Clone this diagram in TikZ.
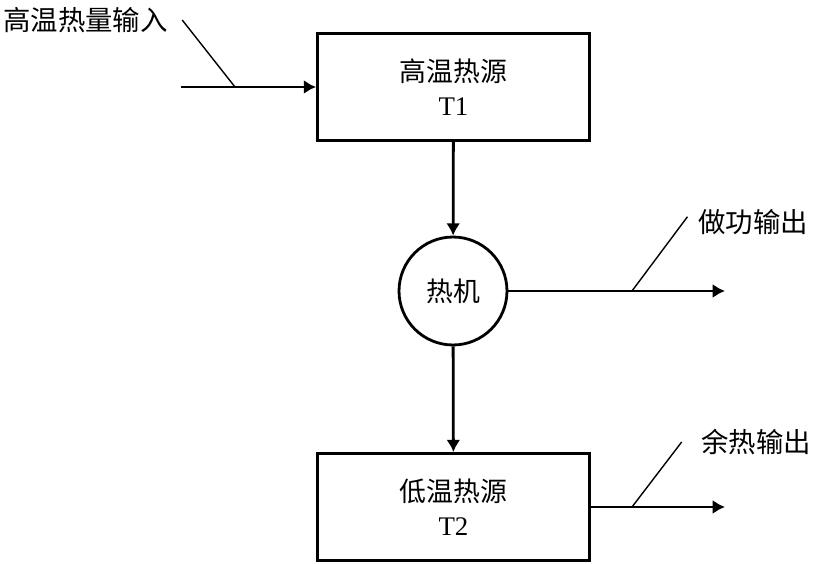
\documentclass[tikz,border=0pt]{standalone}
\usepackage{fontspec}
\setmainfont{Liberation Serif}
\newfontfamily\cjk{Noto Sans CJK SC}
\usetikzlibrary{arrows.meta}

\begin{document}
\begin{tikzpicture}[x=0.02cm, y=-0.02cm,
    srcbox/.style={draw, line width=1.6pt, minimum width=5.44cm, minimum height=2.14cm,
        align=center, font=\fontsize{15.3}{19.5}\selectfont},
    engine/.style={draw, circle, line width=1.6pt, minimum size=2.16cm, inner sep=0pt,
        font=\fontsize{15.3}{18}\selectfont\cjk},
    flow/.style={line width=1.6pt, -{Latex[length=7pt, width=8pt]}},
    leader/.style={line width=0.8pt},
    lbl/.style={inner sep=0pt, font=\fontsize{15.6}{18}\selectfont\cjk}]
        \useasboundingbox (0,0) rectangle (816,564);
        % Heat source and sink
        \node[srcbox] (hot) at (453.5,87) {{\cjk 高温热源}\\T1};
        \node[srcbox] (cold) at (453.5,507) {{\cjk 低温热源}\\T2};
        % Heat engine
        \node[engine] (engine) at (453,291) {热机};
        % Free ends of the flows
        \coordinate (in) at (181,87);
        \coordinate (work) at (725,291);
        \coordinate (waste) at (725,507);
        % Energy flows
        \draw[flow] (in) -- (hot.west);
        \draw[flow] (hot) -- (engine);
        \draw[flow] (engine) -- (cold);
        \draw[flow] (engine) -- (work);
        \draw[flow] (cold) -- (waste);
        % Labels with leader lines
        \node[lbl, anchor=west] (inlbl) at (3,20) {高温热量输入};
        \node[lbl, anchor=west] (worklbl) at (698,222) {做功输出};
        \node[lbl, anchor=west] (wastelbl) at (701,442) {余热输出};
        \coordinate (intap) at (235,87);
        \coordinate (worktap) at (632,291);
        \coordinate (wastetap) at (632,507);
        \draw[leader] ([xshift=8]inlbl.east) -- (intap);
        \draw[leader] ([xshift=-6,yshift=3]worklbl.west) -- (worktap);
        \draw[leader] ([xshift=-11]wastelbl.west) -- (wastetap);
\end{tikzpicture}
\end{document}
